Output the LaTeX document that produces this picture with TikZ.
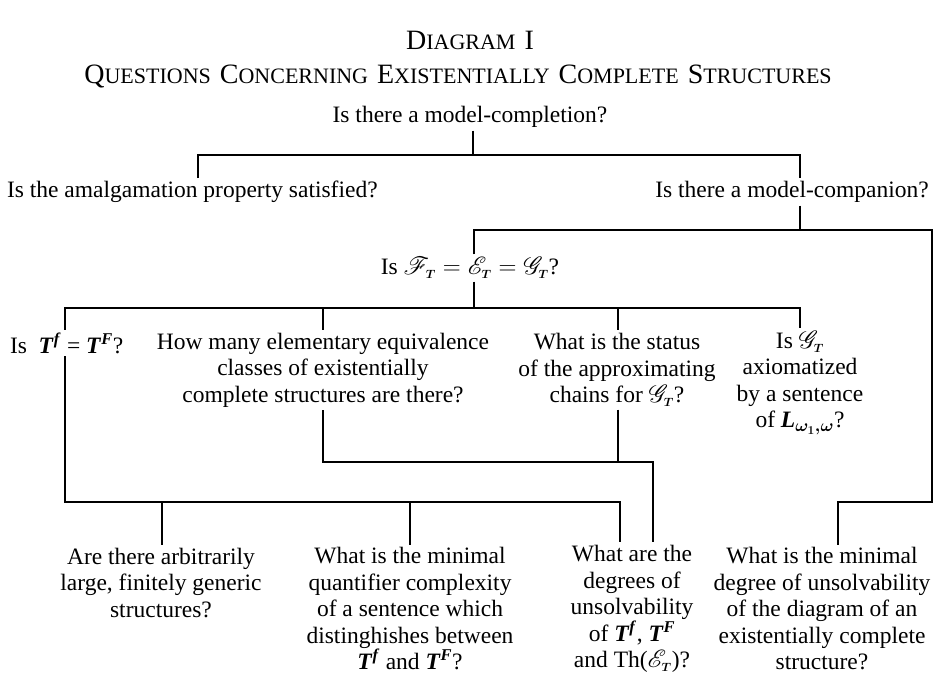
\documentclass[tikz,border=0pt]{standalone}
\usepackage{amsmath}
\usepackage{mathrsfs}
\usepackage{fontspec}
\setmainfont{Liberation Serif}
\usetikzlibrary{calc}
\newcommand{\bT}{\textbf{\textit{T}}}
\newcommand{\Tsup}[1]{\bT\textsuperscript{\textbf{\textit{#1}}}}
\newcommand{\sT}{{\scriptscriptstyle\boldsymbol{T}}}
\newcommand{\scrT}[1]{$\mathscr{#1}_{\sT}$}
\newcommand{\BigC}[1]{{\fontsize{28}{28}\selectfont #1}}
\newcommand{\SmC}[1]{{\fontsize{22}{22}\selectfont #1}}
\newcommand{\wsp}{\hspace{9pt}}
\begin{document}
\begin{tikzpicture}[x=1pt,y=-1pt,
  q/.style={align=center, inner sep=0pt, outer sep=3pt, font=\fontsize{23.5}{26.5}\selectfont},
  titlestyle/.style={inner sep=0pt, font=\fontsize{22}{26}\selectfont},
  conn/.style={line width=1.3pt}]
\useasboundingbox (0,0) rectangle (940,676);

% titles
\node[titlestyle] (t1) at (470,40) {\BigC{D}\SmC{IAGRAM}\wsp\BigC{I}};
\node[titlestyle] (t2) at (458,77) {\BigC{Q}\SmC{UESTIONS}\wsp\BigC{C}\SmC{ONCERNING}\wsp\BigC{E}\SmC{XISTENTIALLY}\wsp\BigC{C}\SmC{OMPLETE}\wsp\BigC{S}\SmC{TRUCTURES}};

% question nodes
\node[q] (top) at (470,117) {Is there a model-completion?};
\node[q, anchor=west] (amalg) at (4,192) {Is the amalgamation property satisfied?};
\node[q] (comp) at (792,192) {Is there a model-companion?};
\node[q] (FT) at (470,268) {Is $\mathscr{F}_{\sT} = \mathscr{E}_{\sT} = \mathscr{G}_{\sT}$?};
\node[q, anchor=west] (tf) at (7,343) {Is\ \ \Tsup{f} = \Tsup{F}?};
\node[q] (howmany) at (323,370) {How many elementary equivalence\\classes of existentially\\complete structures are there?};
\node[q] (status) at (617,370) {What is the status\\of the approximating\\chains for \scrT{G}?};
\node[q] (isG) at (800,383) {Is \scrT{G}\\axiomatized\\by a sentence\\of \textbf{\textit{L}}$_{\boldsymbol{\omega_1,\omega}}$?};
\node[q] (arb) at (161,583) {Are there arbitrarily\\large, finitely generic\\structures?};
\node[q] (quant) at (410,609) {What is the minimal\\quantifier complexity\\of a sentence which\\distinghishes between\\\Tsup{f} and \Tsup{F}?};
\node[q] (deg) at (632,609) {What are the\\degrees of\\unsolvability\\of \Tsup{f}, \Tsup{F}\\and Th(\scrT{E})?};
\node[q] (mindeg) at (822,609) {What is the minimal\\degree of unsolvability\\of the diagram of an\\existentially complete\\structure?};

% junction coordinates
\coordinate (h1T) at (473,155);
\coordinate (h1L) at (198,155);
\coordinate (h1R) at (800,155);
\coordinate (h2L) at (474,230);
\coordinate (h2M) at (800,230);
\coordinate (h2R) at (932,230);
\coordinate (r1) at (932,502);
\coordinate (r2) at (838,502);
\coordinate (h3T) at (474,308);
\coordinate (h3a) at (65,308);
\coordinate (h3b) at (323,308);
\coordinate (h3c) at (618,308);
\coordinate (h3d) at (800,308);
\coordinate (h4a) at (323,462);
\coordinate (h4b) at (618,462);
\coordinate (h4c) at (653,462);
\coordinate (h5a) at (65,502);
\coordinate (h5b) at (162,502);
\coordinate (h5c) at (410,502);
\coordinate (h5d) at (620,502);

% connectors
\draw[conn] (h1T |- top.south) -- (h1T);
\draw[conn] (amalg.north -| h1L) -- (h1L) -- (h1R) -- (comp.north -| h1R);
\draw[conn] (comp.south -| h2M) -- (h2M);
\draw[conn] (FT.north -| h2L) -- (h2L) -- (h2R) -- (r1) -- (r2) -- (mindeg.north -| r2);
\draw[conn] (FT.south -| h3T) -- (h3T);
\draw[conn] (tf.north -| h3a) -- (h3a) -- (h3d) -- (isG.north -| h3d);
\draw[conn] (h3b) -- (howmany.north -| h3b);
\draw[conn] (h3c) -- (status.north -| h3c);
\draw[conn] (howmany.south -| h4a) -- (h4a) -- (h4c) -- (deg.north -| h4c);
\draw[conn] (status.south -| h4b) -- (h4b);
\draw[conn] (tf.south -| h5a) -- (h5a) -- (h5d) -- (deg.north -| h5d);
\draw[conn] (h5b) -- (arb.north -| h5b);
\draw[conn] (h5c) -- (quant.north -| h5c);
\end{tikzpicture}
\end{document}
